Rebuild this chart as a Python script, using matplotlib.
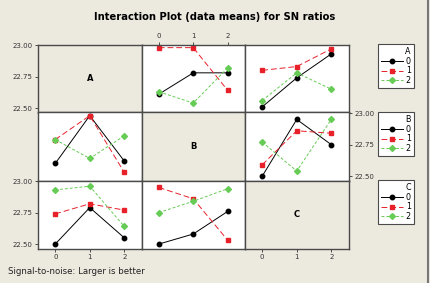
import numpy as np
import matplotlib.pyplot as plt
from matplotlib.lines import Line2D

# factor levels
levels = [0, 1, 2]
factors = ["A", "B", "C"]

# SN ratio means; key (row, col): x = factor of col, one line per level of factor of row
# row A
a_vs_b = {0: [22.61, 22.78, 22.78], 1: [22.98, 22.98, 22.64], 2: [22.63, 22.54, 22.82]}
a_vs_c = {0: [22.51, 22.74, 22.93], 1: [22.80, 22.83, 22.97], 2: [22.56, 22.78, 22.65]}
# row B
b_vs_a = {0: [22.60, 22.98, 22.62], 1: [22.79, 22.98, 22.53], 2: [22.79, 22.64, 22.82]}
b_vs_c = {0: [22.50, 22.95, 22.75], 1: [22.59, 22.86, 22.84], 2: [22.77, 22.54, 22.95]}
# row C
c_vs_a = {0: [22.50, 22.79, 22.55], 1: [22.74, 22.82, 22.77], 2: [22.93, 22.96, 22.64]}
c_vs_b = {0: [22.50, 22.58, 22.76], 1: [22.95, 22.86, 22.53], 2: [22.75, 22.84, 22.94]}

panels = {(0, 1): a_vs_b, (0, 2): a_vs_c,
          (1, 0): b_vs_a, (1, 2): b_vs_c,
          (2, 0): c_vs_a, (2, 1): c_vs_b}

y_ticks = [22.50, 22.75, 23.00]

bg = "#ECE9DF"
styles = {
    0: dict(color="black", linestyle="-", marker="o", markersize=3.2, linewidth=0.7),
    1: dict(color="#E8202A", linestyle=(0, (6, 3)), marker="s", markersize=3.2, linewidth=0.7),
    2: dict(color="#66CC55", linestyle=(0, (3, 2)), marker="D", markersize=3.0, linewidth=0.7),
}

W, H = 430, 283
fig = plt.figure(figsize=(W / 100, H / 100), dpi=100, facecolor=bg)

left, top = 38, 44.5
cw, rh = 103.5, 68

for r in range(3):
    for c in range(3):
        ax = fig.add_axes([(left + c * cw) / W, 1 - (top + (r + 1) * rh) / H, cw / W, rh / H])
        ax.set_xlim(-0.5, 2.5)
        ax.set_ylim(22.465, 23.005)
        for s in ax.spines.values():
            s.set_color("#4a4a4a")
            s.set_linewidth(1.0)
        ax.tick_params(length=2.5, width=0.6, labelsize=5, colors="#333333", pad=1.5)
        ax.set_xticks(levels)
        ax.set_yticks(y_ticks)
        ax.set_yticklabels([f"{v:.2f}" for v in y_ticks])
        show_left = c == 0 and r in (0, 2)
        show_right = c == 2 and r == 1
        show_top = r == 0 and c == 1
        show_bottom = r == 2 and c in (0, 2)
        ax.tick_params(left=show_left, labelleft=show_left,
                       right=show_right, labelright=show_right,
                       top=show_top, labeltop=show_top,
                       bottom=show_bottom, labelbottom=show_bottom)
        if r == c:
            ax.set_facecolor(bg)
            ax.text(0.5, 0.5, factors[r], transform=ax.transAxes, ha="center",
                    va="center", fontsize=6, fontweight="bold")
        else:
            ax.set_facecolor("white")
            data = panels[(r, c)]
            for lv in levels:
                ax.plot(levels, data[lv], **styles[lv])

# legends, one per row factor
for r in range(3):
    handles = [Line2D([], [], **styles[lv]) for lv in levels]
    leg = fig.legend(handles, [str(lv) for lv in levels], title=factors[r],
                     loc="upper left", bbox_to_anchor=(378 / W, 1 - (top + r * rh - 0.5) / H),
                     fontsize=5.8, title_fontsize=5.8, handlelength=2.7, handletextpad=0.4,
                     labelspacing=0.1, borderpad=0.35, borderaxespad=0, fancybox=False,
                     framealpha=1, alignment="right")
    leg.get_frame().set_facecolor("white")
    leg.get_frame().set_edgecolor("#4a4a4a")
    leg.get_frame().set_linewidth(0.8)

fig.text(215 / W, 1 - 17 / H, "Interaction Plot (data means) for SN ratios",
         ha="center", va="center", fontsize=7.2, fontweight="bold")
fig.text(8 / W, 1 - 271 / H, "Signal-to-noise: Larger is better",
         ha="left", va="center", fontsize=6.2, color="#222222")

# right edge line of the window
fig.add_artist(Line2D([427.5 / W, 427.5 / W], [0, 1], color="#777777", linewidth=1.5))

fig.savefig("out.png", dpi=100, facecolor=bg)
